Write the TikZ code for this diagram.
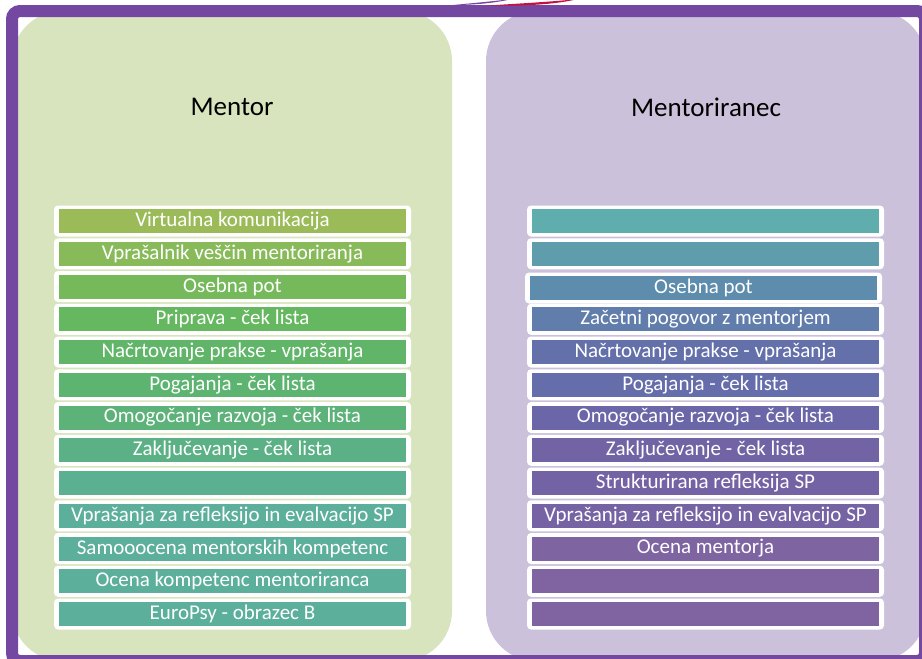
\documentclass[tikz,border=0pt]{standalone}
\usepackage{fontspec}
\setmainfont{Carlito}
\usepackage{tikz}
\usetikzlibrary{positioning}

\definecolor{framepurple}{RGB}{116,72,160}
\definecolor{swooshred}{RGB}{196,18,62}
\definecolor{mentorbg}{RGB}{216,228,189}
\definecolor{menteebg}{RGB}{204,193,218}
\definecolor{cl1}{RGB}{155,187,89}
\definecolor{cl2}{RGB}{136,186,89}
\definecolor{cl3}{RGB}{118,185,91}
\definecolor{cl4}{RGB}{101,183,96}
\definecolor{cl5}{RGB}{96,181,105}
\definecolor{cl6}{RGB}{93,180,112}
\definecolor{cl7}{RGB}{92,178,121}
\definecolor{cl8}{RGB}{91,177,133}
\definecolor{cl9}{RGB}{91,176,145}
\definecolor{cl10}{RGB}{92,175,155}
\definecolor{cl11}{RGB}{92,175,155}
\definecolor{cl12}{RGB}{92,175,155}
\definecolor{cl13}{RGB}{92,175,155}
\definecolor{cr1}{RGB}{95,173,173}
\definecolor{cr2}{RGB}{95,157,173}
\definecolor{cr3}{RGB}{94,140,172}
\definecolor{cr4}{RGB}{96,125,171}
\definecolor{cr5}{RGB}{99,112,170}
\definecolor{cr6}{RGB}{101,110,170}
\definecolor{cr7}{RGB}{106,102,168}
\definecolor{cr8}{RGB}{114,100,164}
\definecolor{cr9}{RGB}{116,99,164}
\definecolor{cr10}{RGB}{117,99,164}
\definecolor{cr11}{RGB}{127,100,162}
\definecolor{cr12}{RGB}{128,100,162}
\definecolor{cr13}{RGB}{128,100,162}

\begin{document}
\begin{tikzpicture}[x=1pt,y=-1pt,
  panel/.style={rounded corners=50pt},
  title/.style={font=\fontsize{27}{32}\selectfont},
  holder/.style={fill=white, rounded corners=4pt, minimum width=357pt, minimum height=31pt, inner sep=0pt},
  item/.style={text=white, minimum width=347pt, minimum height=24pt, inner sep=0pt, font=\fontsize{21}{22}\selectfont}]
\useasboundingbox (0,0) rectangle (922,659);

\fill[mentorbg, panel] (12,11) rectangle (452,661);
\fill[menteebg, panel] (486,11) rectangle (926,661);
\node[title] (mentor) at (232,107) {Mentor};
\node[title] (mentee) at (706,107) {Mentoriranec};

% mentor
\foreach \i/\txt in {1/Virtualna komunikacija, 2/Vprašalnik veščin mentoriranja,
  3/Osebna pot, 4/Priprava - ček lista, 5/Načrtovanje prakse - vprašanja,
  6/Pogajanja - ček lista, 7/Omogočanje razvoja - ček lista,
  8/Zaključevanje - ček lista, 9/{}, 10/Vprašanja za refleksijo in evalvacijo SP,
  11/Samooocena mentorskih kompetenc, 12/Ocena kompetenc mentoriranca,
  13/EuroPsy - obrazec B}{
  \node[holder] (hl\i) at (232.5,188.25+32.75*\i) {};
  \node[item, fill=cl\i] (l\i) at (hl\i) {\txt};
}

% mentoriranec
\foreach \i/\dx/\dy/\txt in {1/0/0/{}, 2/0/0/{}, 3/-2/1.5/Osebna pot,
  4/0/0/Začetni pogovor z mentorjem, 5/0/0/Načrtovanje prakse - vprašanja,
  6/0/0/Pogajanja - ček lista, 7/0/0/Omogočanje razvoja - ček lista,
  8/0/0/Zaključevanje - ček lista, 9/0/0/Strukturirana refleksija SP,
  10/0/0/Vprašanja za refleksijo in evalvacijo SP, 11/0/0/Ocena mentorja,
  12/0/0/{}, 13/0/0/{}}{
  \node[holder] (hr\i) at (705.5+\dx,188.25+32.75*\i+\dy) {};
  \node[item, fill=cr\i] (r\i) at (hr\i) {\txt};
}

\draw[framepurple, line width=12pt, rounded corners=8pt] (12,11) rectangle (925,661);
\fill[framepurple] (453,5) .. controls (475,3) and (495,1) .. (512,-1) .. controls (495,3) and (475,5) .. (453,5);
\fill[swooshred] (487,5.5) .. controls (530,3) and (560,1) .. (578,-1) .. controls (560,3.5) and (530,6.5) .. (487,5.5);
\end{tikzpicture}
\end{document}
